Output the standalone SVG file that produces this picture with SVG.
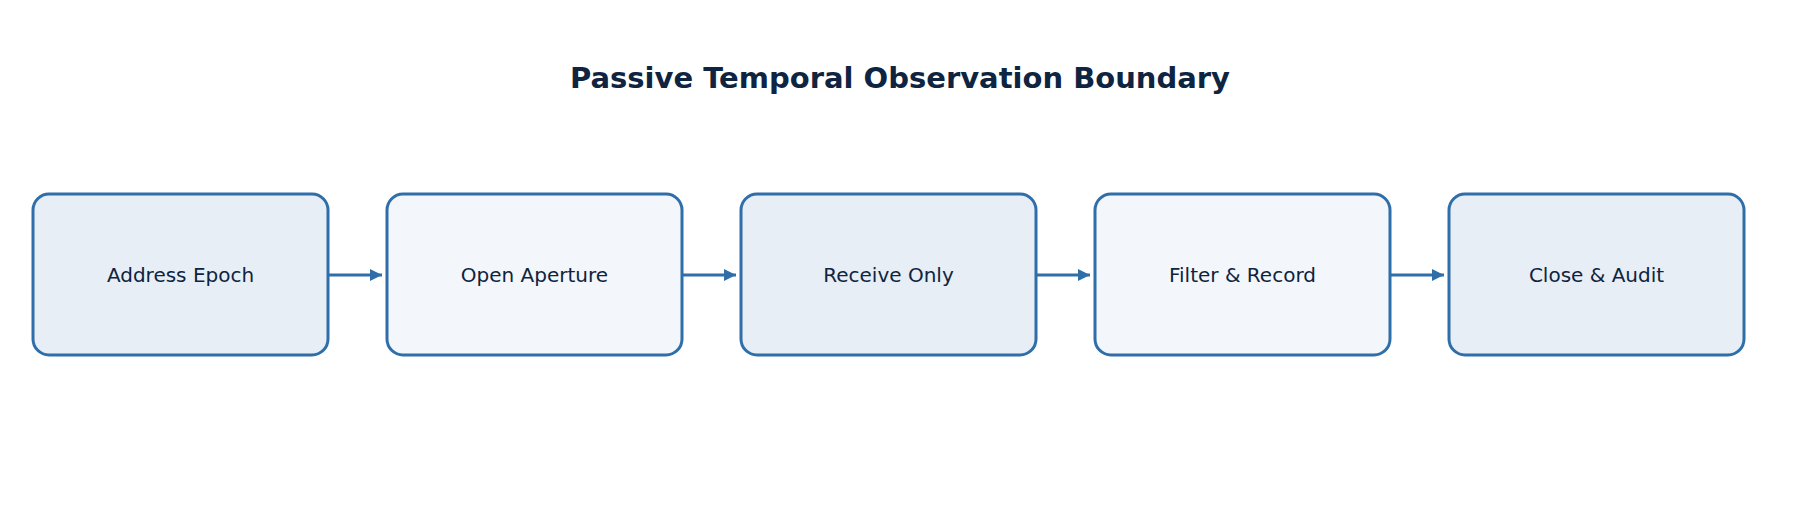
<svg xmlns="http://www.w3.org/2000/svg" width="1800" height="529" viewBox="0 0 1800 529">
<style>
.n rect{stroke:#2F6EA8;stroke-width:3}
.a{fill:#E8EEF6}.b{fill:#F3F6FA}
.n text{font-family:"DejaVu Sans",sans-serif;font-size:20px;fill:#0E2440;text-anchor:middle;dominant-baseline:central}
.c line{stroke:#2F6EA8;stroke-width:3}
</style>
<defs><marker id="m" viewBox="0 0 10 10" refX="10" refY="5" markerWidth="4" markerHeight="4" orient="auto"><path d="M0,0L10,5L0,10z" fill="#2F6EA8"/></marker></defs>
<rect width="1800" height="529" fill="#fff"/>
<text x="900" y="78" font-family="DejaVu Sans,sans-serif" font-size="29" font-weight="bold" fill="#0E2440" text-anchor="middle" dominant-baseline="central">Passive Temporal Observation Boundary</text>
<g id="n1" class="n"><rect class="a" x="33" y="194" width="295" height="161" rx="16"/><text x="180.5" y="274.5">Address Epoch</text></g>
<g id="n2" class="n"><rect class="b" x="387" y="194" width="295" height="161" rx="16"/><text x="534.5" y="274.5">Open Aperture</text></g>
<g id="n3" class="n"><rect class="a" x="741" y="194" width="295" height="161" rx="16"/><text x="888.5" y="274.5">Receive Only</text></g>
<g id="n4" class="n"><rect class="b" x="1095" y="194" width="295" height="161" rx="16"/><text x="1242.5" y="274.5">Filter &amp; Record</text></g>
<g id="n5" class="n"><rect class="a" x="1449" y="194" width="295" height="161" rx="16"/><text x="1596.5" y="274.5">Close &amp; Audit</text></g>
<g id="connectors" class="c">
<line x1="329" y1="275" x2="382" y2="275" marker-end="url(#m)"/>
<line x1="683" y1="275" x2="736" y2="275" marker-end="url(#m)"/>
<line x1="1037" y1="275" x2="1090" y2="275" marker-end="url(#m)"/>
<line x1="1391" y1="275" x2="1444" y2="275" marker-end="url(#m)"/>
</g>
</svg>
